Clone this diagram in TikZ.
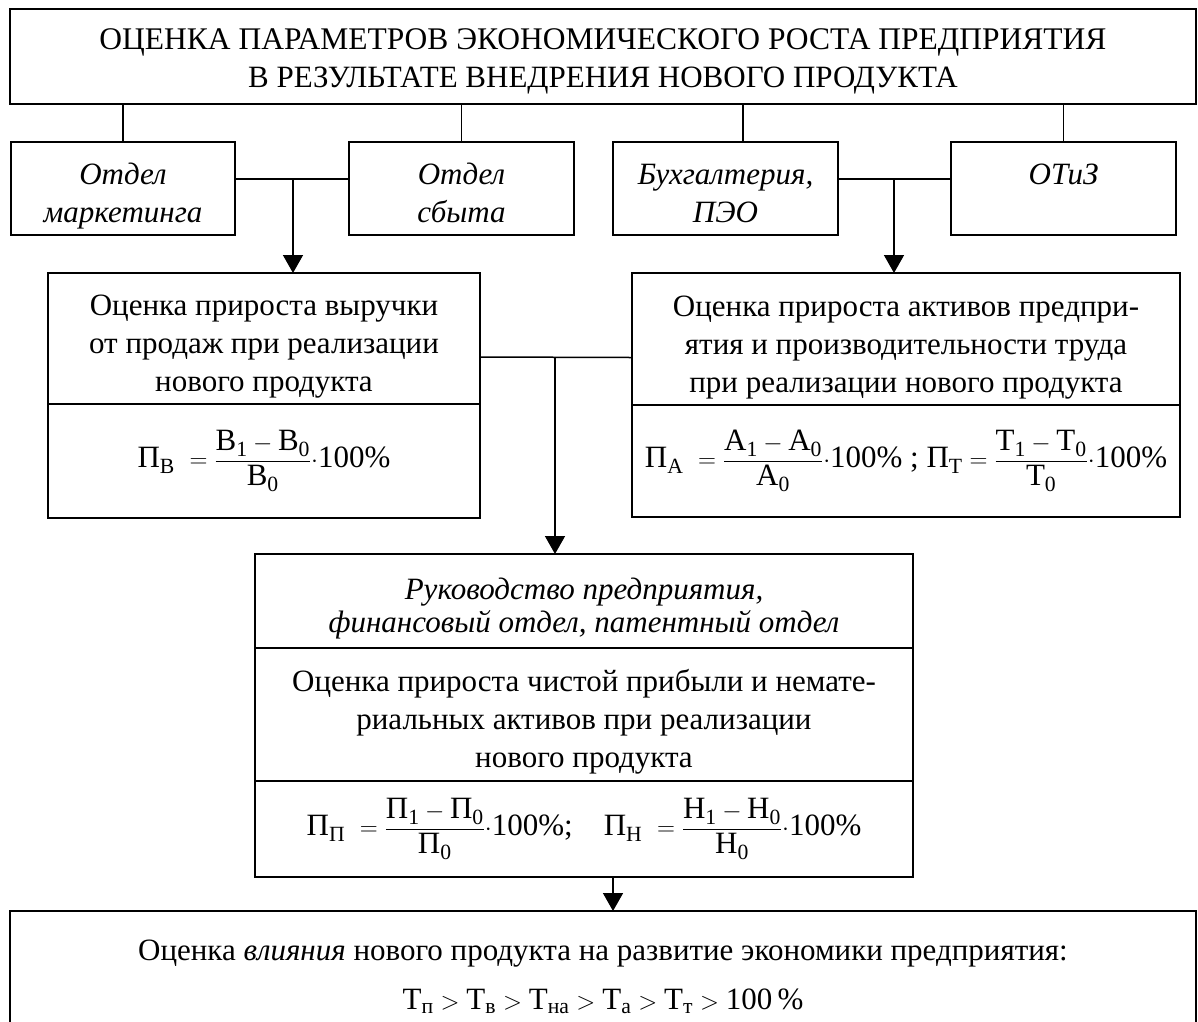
\documentclass[tikz,border=0pt]{standalone}
\usepackage{fontspec}
\setmainfont{Liberation Serif}
\usepackage{amsmath}
\usepackage{tikz}
\usetikzlibrary{arrows.meta,positioning,calc}

\newcommand{\lsub}[2]{\text{#1}_{\text{#2}}}
\newcommand{\prfrac}[1]{\dfrac{\lsub{#1}{1}-\lsub{#1}{0}}{\lsub{#1}{0}}{\cdot}\text{100\%}}
\newcommand{\topstr}[1][42pt]{\rule{0pt}{#1}}

\begin{document}
\fontsize{31}{38}\selectfont
\begin{tikzpicture}[x=1pt,y=1pt]
\tikzset{el/.style={draw, rectangle, line width=1.5pt, outer sep=0pt, inner sep=0pt, align=center},
  ln/.style={line width=1.5pt},
  arr/.style={ln, -{Triangle[width=20pt,length=18pt]}}}

\useasboundingbox (0,0) rectangle (1198,-1021);

% Title
\node[el, minimum width=1186, minimum height=95] (ocenka) at (603,-56.5)
{\fontsize{31.5}{39}\selectfont\topstr[36pt]ОЦЕНКА ПАРАМЕТРОВ ЭКОНОМИЧЕСКОГО РОСТА ПРЕДПРИЯТИЯ\\
 В РЕЗУЛЬТАТЕ ВНЕДРЕНИЯ НОВОГО ПРОДУКТА\strut};

% Departments
\node[el, font=\itshape, minimum width=224, minimum height=93] (mark) at (123,-188.5) {\topstr Отдел\\маркетинга\strut};
\node[el, font=\itshape, minimum width=225, minimum height=93] (sbyt) at (461.5,-188.5) {\topstr Отдел\\сбыта\strut};
\node[el, font=\itshape, minimum width=225, minimum height=93] (buh) at (725.5,-188.5) {\topstr Бухгалтерия,\\ПЭО\strut};
\node[el, font=\itshape, minimum width=225, minimum height=93] (otiz) at (1063.5,-188.5) {\topstr ОТиЗ\\\strut};

% Revenue and assets
\node[el, minimum width=432, minimum height=131] (vyr) at (264,-338.5)
{\topstr Оценка прироста выручки\\от продаж при реализации\\нового продукта\strut};
\node[el, minimum width=432, minimum height=114, below=0pt of vyr] (vyrf)
{$\displaystyle \lsub{П}{В}\ = \prfrac{В}$};

\node[el, minimum width=548, minimum height=132] (akt) at (906,-339)
{\topstr Оценка прироста активов предпри-\\ятия и производительности труда\\при реализации нового продукта\strut};
\node[el, minimum width=548, minimum height=112, below=0pt of akt] (aktf)
{$\displaystyle \lsub{П}{А}\ = \prfrac{А}\text{ ;}\ \lsub{П}{Т} = \prfrac{Т}$};

% Management
\node[el, font=\itshape, minimum width=658, minimum height=94] (ruk) at (584,-601)
{\topstr Руководство предприятия,\\[-5pt]финансовый отдел, патентный отдел\strut};
\node[el, minimum width=658, minimum height=133, below=0pt of ruk] (prib)
{\topstr Оценка прироста чистой прибыли и немате-\\риальных активов при реализации\\нового продукта\strut};
\node[el, minimum width=658, minimum height=96, below=0pt of prib] (pribf)
{$\displaystyle \lsub{П}{П}\ = \prfrac{П}\text{;}\quad \lsub{П}{Н}\ = \prfrac{Н}$};

% Result
\node[el, minimum width=1186, minimum height=124] (vliyan) at (603,-973)
{\topstr[35pt]Оценка \textit{влияния} нового продукта на развитие экономики предприятия:\\[11pt]
$\lsub{Т}{п} > \lsub{Т}{в} > \lsub{Т}{на} > \lsub{Т}{а} > \lsub{Т}{т} > \text{100\,\%}$\strut};

% Connections
\foreach \d in {mark, sbyt, otiz}
  \draw[ln] (\d.north) -- (\d.north |- ocenka.south);
\draw[ln] ([xshift=17.5]buh.north) -- ([xshift=17.5]buh.north |- ocenka.south);

\draw[ln] ([yshift=9.5]mark.east) -- ([yshift=9.5]sbyt.west);
\coordinate (j1) at (293,-179);
\draw[arr] (j1) -- (j1 |- vyr.north);

\draw[ln] ([yshift=9.5]buh.east) -- ([yshift=9.5]otiz.west);
\coordinate (j2) at (894,-179);
\draw[arr] (j2) -- (j2 |- akt.north);

\draw[ln] ([yshift=-18.5]vyr.east) -- ([yshift=-18.5]akt.west);
\coordinate (j3) at (555,-357);
\draw[arr] (j3) -- (j3 |- ruk.north);

\draw[arr] ([xshift=29]pribf.south) -- ([xshift=29]pribf.south |- vliyan.north);

\end{tikzpicture}
\end{document}
